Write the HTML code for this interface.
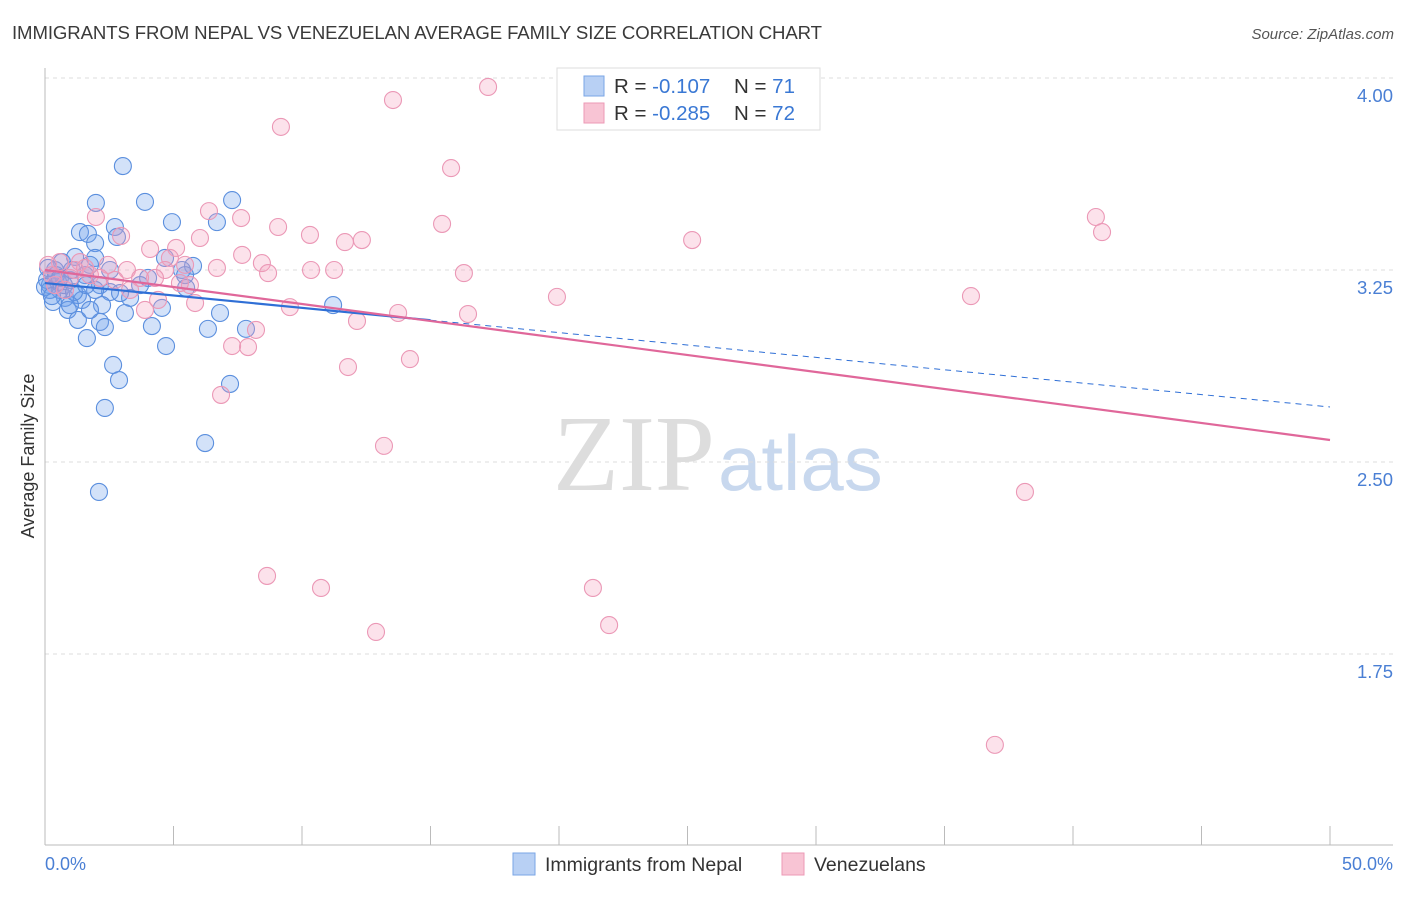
<!DOCTYPE html>
<html><head><meta charset="utf-8"><style>
body{margin:0;background:#fff;font-family:"Liberation Sans",sans-serif}
</style></head><body>
<svg id="c" width="1406" height="892" xmlns="http://www.w3.org/2000/svg" style="font-family:'Liberation Sans',sans-serif">
<text x="12" y="39" font-size="18.6" fill="#3a3a3a" textLength="810">IMMIGRANTS FROM NEPAL VS VENEZUELAN AVERAGE FAMILY SIZE CORRELATION CHART</text>
<text x="1394" y="39" font-size="15" fill="#555" font-style="italic" text-anchor="end">Source: ZipAtlas.com</text>
<text x="715" y="490" font-size="108" fill="#ddd" font-family="Liberation Serif" text-anchor="end">ZIP</text>
<text x="718" y="490" font-size="78" fill="#c8d8ee">atlas</text>
<g id="grid"></g><g id="axes"></g><g id="pts"></g><g id="trend"></g>
<text transform="translate(34,456) rotate(-90)" font-size="18" fill="#333" text-anchor="middle">Average Family Size</text>
<text x="45" y="870" font-size="18" fill="#4a7fd4">0.0%</text>
<text x="1393" y="870" font-size="18" fill="#4a7fd4" text-anchor="end">50.0%</text>
<g>
<rect x="557" y="68" width="263" height="62" fill="#fff" stroke="#ddd"/>
<rect x="584" y="76" width="20" height="20" fill="#b8d0f4" stroke="#7aa6e6"/>
<rect x="584" y="103" width="20" height="20" fill="#f8c4d4" stroke="#ec9ab6"/>
<text x="614" y="93" font-size="20.5" fill="#333">R = <tspan fill="#3a78d4">-0.107</tspan><tspan x="734">N = </tspan><tspan fill="#3a78d4">71</tspan></text>
<text x="614" y="120" font-size="20.5" fill="#333">R = <tspan fill="#3a78d4">-0.285</tspan><tspan x="734">N = </tspan><tspan fill="#3a78d4">72</tspan></text>
</g>
<g>
<rect x="513" y="853" width="22" height="22" fill="#b8d0f4" stroke="#7aa6e6"/>
<text x="545" y="871" font-size="19.5" fill="#333">Immigrants from Nepal</text>
<rect x="782" y="853" width="22" height="22" fill="#f8c4d4" stroke="#ec9ab6"/>
<text x="814" y="871" font-size="19.5" fill="#333">Venezuelans</text>
</g>
</svg>
<script>
const yTicks=[4.00,3.25,2.50,1.75];
const yTickLabels=["4.00","3.25","2.50","1.75"];
const xTicks=[0,5,10,15,20,25,30,35,40,45,50];
const nepalX=[3.03,1.98,3.89,7.28,4.94,6.69,1.36,1.67,2.72,1.95,2.80,0.66,1.95,1.17,1.75,4.67,5.76,5.33,4.01,0.39,0.19,0.58,0.97,1.56,2.14,2.53,0.78,1.28,0.31,0.89,1.28,2.22,3.31,4.55,5.49,6.81,2.14,2.33,3.11,4.16,6.34,7.82,1.63,4.71,2.65,2.88,7.20,2.33,6.23,2.10,11.21,0.08,0.19,0.51,1.05,1.44,1.95,2.53,0.12,0.43,0.74,1.13,0.0,0.27,2.92,3.70,5.45,1.75,0.97,0.58,1.60];
const nepalY=[3.656,3.512,3.516,3.523,3.437,3.437,3.398,3.391,3.418,3.355,3.379,3.281,3.297,3.301,3.270,3.297,3.266,3.25,3.219,3.25,3.191,3.172,3.211,3.230,3.191,3.164,3.141,3.152,3.125,3.094,3.055,3.113,3.141,3.102,3.180,3.082,3.047,3.027,3.082,3.031,3.020,3.020,2.984,2.953,2.879,2.820,2.805,2.711,2.574,2.383,3.113,3.211,3.172,3.203,3.25,3.133,3.172,3.25,3.258,3.230,3.191,3.164,3.184,3.148,3.160,3.191,3.230,3.094,3.113,3.219,3.191];
const venX=[17.24,13.54,9.18,15.80,1.98,6.38,7.63,15.45,9.07,10.31,11.67,12.33,25.18,40.89,41.13,2.96,4.09,5.10,6.03,7.67,8.44,4.86,2.45,3.19,1.36,10.35,11.25,16.30,8.68,6.69,5.45,4.67,4.28,5.64,3.70,19.92,36.03,4.40,5.84,9.53,13.74,16.46,12.14,3.89,8.21,7.28,7.90,14.20,11.79,6.85,13.19,38.13,8.64,10.74,21.32,21.95,12.88,36.96,0.58,1.17,1.75,0.39,0.97,0.12,2.14,2.72,3.31,0.78,1.56,0.27,5.25];
const venY=[3.965,3.914,3.809,3.648,3.457,3.480,3.453,3.430,3.418,3.387,3.359,3.367,3.367,3.457,3.398,3.383,3.332,3.336,3.375,3.309,3.277,3.297,3.270,3.25,3.281,3.25,3.25,3.238,3.238,3.258,3.270,3.25,3.219,3.191,3.219,3.145,3.148,3.133,3.121,3.105,3.082,3.078,3.051,3.094,3.016,2.953,2.949,2.902,2.871,2.762,2.563,2.383,2.055,2.008,2.008,1.863,1.836,1.395,3.281,3.25,3.230,3.191,3.219,3.270,3.219,3.211,3.172,3.172,3.258,3.230,3.199];
const nepalTrend=[3.199,2.715];
const venTrend=[3.25,2.586];
const NS="http://www.w3.org/2000/svg";
const X=v=>45+v*25.7, Y=v=>270-(v-3.25)*256;
function mk(t,a,p){const e=document.createElementNS(NS,t);for(const k in a)e.setAttribute(k,a[k]);document.getElementById(p).appendChild(e);return e;}
yTicks.forEach((t,i)=>{
 const l=mk('line',{x1:45,x2:1393,y1:Y(t),y2:Y(t),stroke:'#ddd','stroke-dasharray':'4,4'},'grid');
 
 
 const tx=mk('text',{x:1393,y:Y(t)+24,'font-size':18.5,fill:'#4a7fd4','text-anchor':'end'},'grid');
 tx.textContent=yTickLabels[i];
 
 
});
let a=mk('line',{x1:45,x2:45,y1:68,y2:845,stroke:'#bbb'},'axes');


a=mk('line',{x1:45,x2:1393,y1:845,y2:845,stroke:'#bbb'},'axes');


xTicks.forEach(t=>{
 const l=mk('line',{x1:X(t),x2:X(t),y1:826,y2:845,stroke:'#bbb'},'axes');
 
 
});
nepalX.forEach((x,i)=>{
 const c=mk('circle',{cx:X(x),cy:Y(nepalY[i]),r:8.5,fill:'rgba(110,160,235,0.3)',stroke:'#5b8fde','stroke-width':1.1},'pts');
 
 
});
venX.forEach((x,i)=>{
 const c=mk('circle',{cx:X(x),cy:Y(venY[i]),r:8.5,fill:'rgba(245,160,190,0.3)',stroke:'#eb98b6','stroke-width':1.1},'pts');
 
 
});
const bAt=x=>nepalTrend[0]+(nepalTrend[1]-nepalTrend[0])*x/50;
let t=mk('line',{x1:X(0),y1:Y(bAt(0)),x2:X(15),y2:Y(bAt(15)),stroke:'#2f6fd6','stroke-width':2.2},'trend');


t=mk('line',{x1:X(15),y1:Y(bAt(15)),x2:X(50),y2:Y(bAt(50)),stroke:'#2f6fd6','stroke-width':1,'stroke-dasharray':'6,5'},'trend');


t=mk('line',{x1:X(0),y1:Y(venTrend[0]),x2:X(50),y2:Y(venTrend[1]),stroke:'#e0679a','stroke-width':2.2},'trend');


</script>
</body></html>
